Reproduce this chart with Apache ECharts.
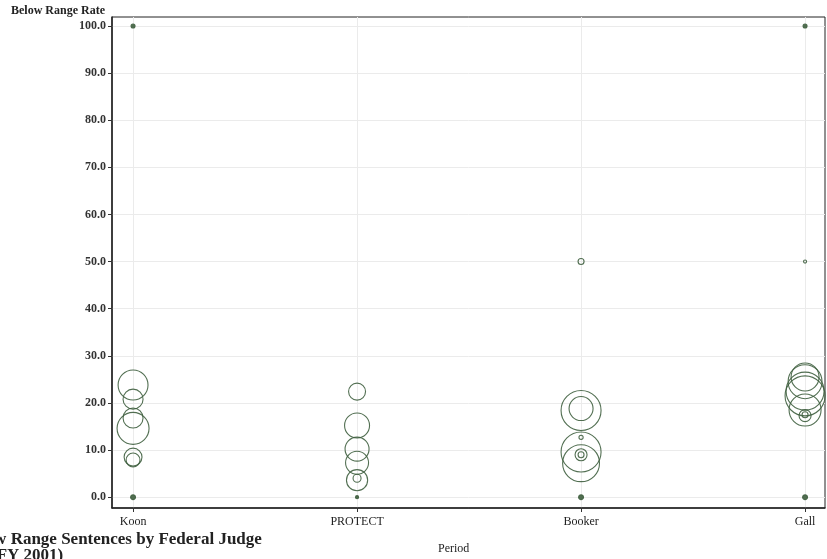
<!DOCTYPE html>
<html>
<head>
<meta charset="utf-8">
<script src="https://cdn.jsdelivr.net/npm/echarts@6/dist/echarts.min.js"></script>
<style>html,body{margin:0;padding:0;background:#fff}#c{width:827px;height:559px}</style>
</head>
<body>
<div id="c"></div>
<script>
var categories = ['Koon', 'PROTECT', 'Booker', 'Gall'];
var yTicks = [0, 10, 20, 30, 40, 50, 60, 70, 80, 90, 100];
// [period index, below range rate, weight]
var koon = [[0, 23.8, 56], [0, 20.8, 25], [0, 16.8, 25], [0, 14.6, 64], [0, 8.5, 20], [0, 7.9, 12], [0, 0, 1.5], [0, 100, 1]];
var protect = [[1, 22.4, 18], [1, 15.2, 39], [1, 10.2, 36], [1, 7.3, 33], [1, 3.6, 28], [1, 4.0, 4], [1, 0, 0.6]];
var booker = [[2, 18.4, 100], [2, 18.8, 36], [2, 12.7, 1.1], [2, 9.6, 100], [2, 7.2, 85], [2, 9.0, 9], [2, 9.0, 2.25], [2, 0, 1.5], [2, 50, 2.25]];
var gall = [[3, 25.5, 49], [3, 24.5, 72], [3, 22.5, 90], [3, 21.5, 100], [3, 18.5, 64], [3, 17.3, 9], [3, 17.5, 2.25], [3, 0, 1.5], [3, 50, 0.6], [3, 100, 1]];

var chart = echarts.init(document.getElementById('c'));
var serif = 'Liberation Serif, DejaVu Serif, serif';
var allData = koon.concat(protect, booker, gall).map(function (d) {
  var item = {value: d};
  if (d[2] <= 1.5 && !(d[1] > 0 && d[1] < 100)) {
    item.itemStyle = {color: '#3f5f3f'};
  }
  return item;
});
chart.setOption({
  animation: false,
  backgroundColor: '#fff',
  title: [
    {text: 'Below Range Rate', left: 11, top: 5, padding: 0, textStyle: {fontFamily: serif, fontSize: 12, fontWeight: 'bold', color: '#222'}},
    {text: 'Period', left: 438, top: 543, padding: 0, textStyle: {fontFamily: serif, fontSize: 12, fontWeight: 'normal', color: '#222'}},
    {text: 'Below Range Sentences by Federal Judge', left: -38, top: 531, padding: 0, textStyle: {fontFamily: serif, fontSize: 17, fontWeight: 'bold', color: '#222'}},
    {text: '(FY 2001)', left: -9, top: 547, padding: 0, textStyle: {fontFamily: serif, fontSize: 17, fontWeight: 'bold', color: '#222'}}
  ],
  grid: {left: 112, right: 2, top: 17, bottom: 51, show: true, borderColor: '#222', borderWidth: 1},
  xAxis: {
    type: 'value', min: -0.094, max: 3.089,
    axisLine: {show: true, onZero: false, lineStyle: {color: '#222', width: 1.5}},
    axisTick: {show: true, customValues: [0, 1, 2, 3], length: 4, lineStyle: {color: '#333'}},
    axisLabel: {customValues: [0, 1, 2, 3], formatter: function (v) { return categories[Math.round(v)]; }, fontFamily: serif, fontSize: 12, color: '#222', margin: 8},
    splitLine: {show: true, lineStyle: {color: '#ebebeb', width: 1}}
  },
  yAxis: {
    type: 'value', min: -2.3, max: 101.9,
    axisLine: {show: true, onZero: false, lineStyle: {color: '#222', width: 1.5}},
    axisTick: {show: true, customValues: yTicks, length: 4, lineStyle: {color: '#333'}},
    axisLabel: {customValues: yTicks, formatter: function (v) { return v.toFixed(1); }, fontFamily: serif, fontSize: 12, fontWeight: 'bold', color: '#333', margin: 6},
    splitLine: {show: true, lineStyle: {color: '#ebebeb', width: 1}}
  },
  series: [{
    type: 'scatter',
    data: allData,
    symbol: 'circle',
    symbolSize: function (d) { return 4 * Math.sqrt(d[2]); },
    itemStyle: {color: 'rgba(0,0,0,0)', borderColor: '#3f5f3f', borderWidth: 1.1, opacity: 0.9},
    emphasis: {disabled: true}
  }]
});
</script>
</body>
</html>
